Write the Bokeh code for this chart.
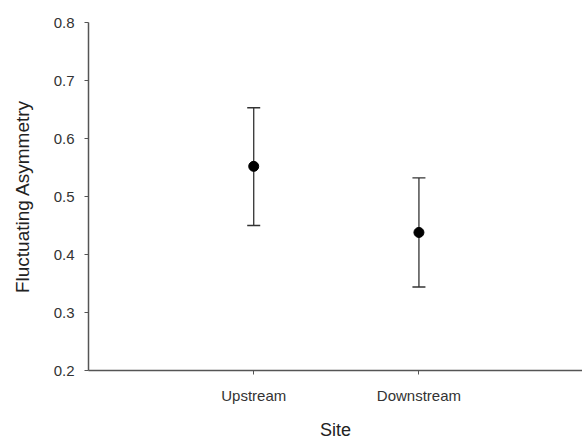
from bokeh.plotting import figure
from bokeh.models import Range1d, FixedTicker, ColumnDataSource, Whisker, TeeHead
from bokeh.embed import file_html
from bokeh.resources import INLINE

sites = ["Upstream", "Downstream"]
site_pos = [1, 2]
means = [0.552, 0.438]
upper = [0.653, 0.532]
lower = [0.450, 0.344]
y_ticks = [0.2, 0.3, 0.4, 0.5, 0.6, 0.7, 0.8]

src = ColumnDataSource(dict(x=site_pos, y=means, upper=upper, lower=lower))

p = figure(width=582, height=442, output_backend="svg", toolbar_location=None,
           x_range=Range1d(0, 2.99), y_range=Range1d(0.2, 0.8),
           min_border_left=88, min_border_right=0, min_border_top=22, min_border_bottom=72)
p.outline_line_color = None
p.grid.visible = False
p.background_fill_color = "white"

w = Whisker(source=src, base="x", upper="upper", lower="lower",
            line_color="#333333", line_width=1.3,
            upper_head=TeeHead(size=13, line_color="#333333", line_width=1.3),
            lower_head=TeeHead(size=13, line_color="#333333", line_width=1.3))
p.add_layout(w)
p.scatter("x", "y", source=src, size=10, color="black")

p.xaxis.ticker = FixedTicker(ticks=site_pos)
p.xaxis.major_label_overrides = {x: s for x, s in zip(site_pos, sites)}
p.yaxis.ticker = FixedTicker(ticks=y_ticks)
p.yaxis.major_label_overrides = {t: f"{t:.1f}" for t in y_ticks}

for ax in (p.xaxis[0], p.yaxis[0]):
    ax.axis_line_color = "#555555"
    ax.axis_line_width = 1.5
    ax.major_tick_line_color = "#555555"
    ax.major_tick_in = 0
    ax.major_tick_out = 4
    ax.minor_tick_line_color = None
    ax.major_label_text_font = "Liberation Sans"
    ax.major_label_text_color = "#333333"
    ax.axis_label_text_font = "Liberation Sans"
    ax.axis_label_text_font_size = "18px"
    ax.axis_label_text_font_style = "normal"
    ax.axis_label_text_color = "#222222"

p.xaxis.major_label_text_font_size = "15px"
p.yaxis.major_label_text_font_size = "15px"
p.yaxis.axis_label_text_font_size = "19px"
p.xaxis.axis_label = "Site"
p.yaxis.axis_label = "Fluctuating Asymmetry"
p.xaxis.major_label_standoff = 12
p.xaxis.axis_label_standoff = 13
p.yaxis.major_label_standoff = 10
p.yaxis.axis_label_standoff = 18

open("out.html", "w").write(file_html(p, INLINE))
